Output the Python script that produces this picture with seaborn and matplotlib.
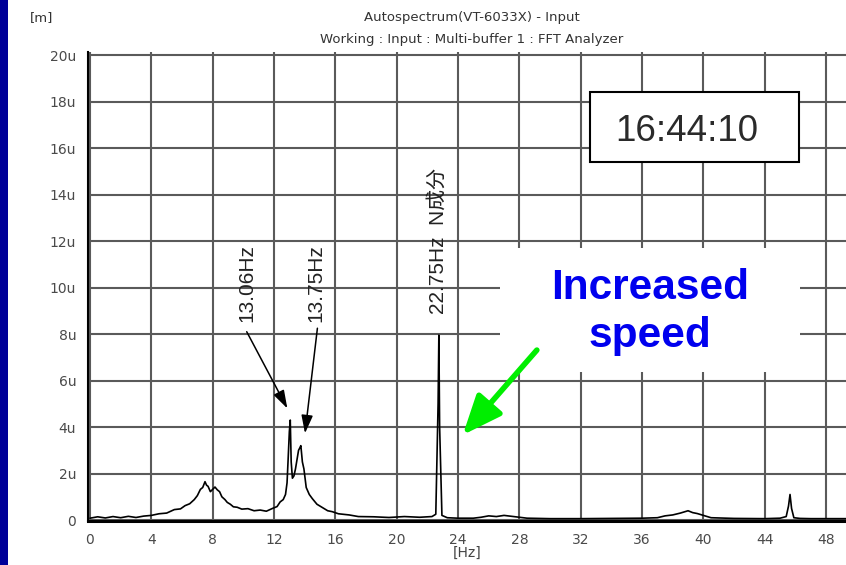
import matplotlib
matplotlib.use("Agg")
import matplotlib.pyplot as plt
from matplotlib.patches import Rectangle
import seaborn as sns
import pandas as pd

# ---------------- data ----------------
freq = [0.0, 0.5, 1.0, 1.5, 2.0, 2.5, 3.0, 3.5, 4.0, 4.5,
        5.0, 5.5, 5.9, 6.2, 6.5, 6.8, 7.0, 7.2, 7.35, 7.5,
        7.6, 7.7, 7.85, 8.0, 8.15, 8.3, 8.45, 8.6, 8.8, 8.95,
        9.15, 9.35, 9.6, 9.9, 10.3, 10.7, 11.1, 11.5, 11.9, 12.2,
        12.4, 12.6, 12.75, 12.85, 12.92, 13.0, 13.06, 13.12, 13.2, 13.3,
        13.4, 13.5, 13.6, 13.68, 13.75, 13.85, 13.95, 14.1, 14.3, 14.5,
        14.8, 15.1, 15.5, 15.8, 16.2, 16.9, 17.5, 18.5, 19.5, 20.5,
        21.5, 22.3, 22.55, 22.7, 22.75, 22.8, 22.95, 23.3, 24.0, 25.0,
        25.5, 26.0, 26.5, 27.0, 27.5, 28.0, 28.5, 30.0, 32.0, 34.0,
        36.0, 37.0, 37.5, 38.0, 38.5, 39.0, 39.3, 39.6, 40.0, 40.5,
        42.0, 44.0, 45.0, 45.4, 45.55, 45.65, 45.75, 45.9, 46.3, 47.0,
        48.0, 49.3]
amp = [0.08, 0.14, 0.09, 0.15, 0.10, 0.16, 0.11, 0.17, 0.20, 0.27,
       0.30, 0.45, 0.48, 0.62, 0.70, 0.88, 1.05, 1.32, 1.40, 1.65,
       1.50, 1.45, 1.22, 1.32, 1.42, 1.30, 1.22, 1.00, 0.88, 0.76,
       0.68, 0.57, 0.55, 0.47, 0.49, 0.40, 0.43, 0.38, 0.50, 0.58,
       0.78, 0.88, 1.10, 1.60, 2.60, 3.80, 4.30, 2.50, 1.80, 1.90,
       2.20, 2.60, 3.00, 3.10, 3.20, 2.50, 2.20, 1.40, 1.10, 0.92,
       0.68, 0.56, 0.40, 0.36, 0.27, 0.22, 0.15, 0.14, 0.11, 0.15,
       0.12, 0.15, 0.25, 5.00, 7.95, 4.00, 0.20, 0.10, 0.08, 0.08,
       0.12, 0.18, 0.15, 0.20, 0.16, 0.12, 0.08, 0.06, 0.06, 0.07,
       0.08, 0.10, 0.18, 0.22, 0.30, 0.40, 0.32, 0.28, 0.20, 0.10,
       0.07, 0.06, 0.08, 0.15, 0.60, 1.10, 0.50, 0.10, 0.07, 0.06,
       0.06, 0.06]

x_ticks = [0, 4, 8, 12, 16, 20, 24, 28, 32, 36, 40, 44, 48]
y_ticks = [0, 2, 4, 6, 8, 10, 12, 14, 16, 18, 20]
y_tick_labels = ["0", "2u", "4u", "6u", "8u", "10u", "12u", "14u", "16u", "18u", "20u"]

title1 = "Autospectrum(VT-6033X) - Input"
title2 = "Working : Input : Multi-buffer 1 : FFT Analyzer"
unit_label = "[m]"
x_label = "[Hz]"
timestamp = "16:44:10"
note = "Increased\nspeed"
peak_labels = ["13.06Hz", "13.75Hz", "22.75Hz  N成分"]

df = pd.DataFrame({"freq": freq, "amp": amp})

# ---------------- figure ----------------
sns.set_style("white")
plt.rcParams["font.family"] = ["DejaVu Sans", "Noto Sans CJK JP"]

fig = plt.figure(figsize=(8.46, 5.65), dpi=100)
fig.patch.set_facecolor("white")

# blue band at left edge
fig.add_artist(Rectangle((0, 0), 8 / 846, 1, transform=fig.transFigure,
                         facecolor="#000099", edgecolor="none"))

ax = fig.add_axes([88 / 846, 0.0775, 1 - 88 / 846, 0.8313])
ax.set_facecolor("white")

sns.lineplot(data=df, x="freq", y="amp", ax=ax, color="black", lw=1.2,
             zorder=4, estimator=None, sort=False)

ax.set_xlim(-0.13, 49.3)
ax.set_ylim(-0.05, 20.15)
ax.set_xticks(x_ticks)
ax.set_xticklabels([str(v) for v in x_ticks])
ax.set_yticks(y_ticks)
ax.set_yticklabels(y_tick_labels)
ax.tick_params(axis="both", direction="out", length=7, width=1.3, color="black",
               labelsize=10, labelcolor="#4a4a4a", pad=1.5)
ax.grid(True, color="#5a5a5a", lw=1.5)
ax.set_axisbelow(True)
for s in ["top", "right"]:
    ax.spines[s].set_visible(False)
ax.spines["left"].set_color("black")
ax.spines["left"].set_linewidth(1.5)
ax.spines["bottom"].set_color("black")
ax.spines["bottom"].set_linewidth(2.2)
ax.set_xlabel(x_label, fontsize=10, color="#444444", labelpad=-1)
ax.set_ylabel("")

# titles
fig.text(472 / 846, 1 - 18 / 565, title1, ha="center", va="center",
         fontsize=9.5, color="#333333")
fig.text(472 / 846, 1 - 40 / 565, title2, ha="center", va="center",
         fontsize=9.5, color="#333333")
fig.text(30 / 846, 1 - 18 / 565, unit_label, ha="left", va="center",
         fontsize=9.5, color="#333333")

# timestamp box
ax.add_patch(Rectangle((32.6, 15.4), 46.25 - 32.6, 18.4 - 15.4, facecolor="white",
                       edgecolor="black", lw=1.5, zorder=3))
ax.text(38.9, 16.7, timestamp, ha="center", va="center", fontsize=26.5,
        family="Liberation Sans", color="#2a2a2a", zorder=5)

# white box behind note
ax.add_patch(Rectangle((26.75, 6.37), 46.3 - 26.75, 11.7 - 6.37, facecolor="white",
                       edgecolor="none", zorder=3))
ax.text(36.5, 8.95, note, ha="center", va="center", fontsize=30.5,
        fontweight="bold", family="Liberation Sans", color="#0000ee",
        linespacing=1.25, zorder=5)

# peak labels (rotated)
peak_text_pos = [(10.24, 10.2), (14.7, 10.2), (22.7, 12.0)]
for lbl, (tx, ty) in zip(peak_labels, peak_text_pos):
    ax.text(tx, ty, lbl, rotation=90, ha="center", va="center", fontsize=15,
            family=["Liberation Sans", "Noto Sans CJK JP"], color="#222222",
            zorder=5)

# black arrows
arrows = [((10.22, 8.1), (12.87, 4.8)), ((14.83, 8.25), (14.02, 3.73))]
for start, tip in arrows:
    ax.annotate("", xy=tip, xytext=start,
                arrowprops=dict(arrowstyle="-|>,head_length=1.1,head_width=0.35",
                                mutation_scale=10, color="black", lw=1.1,
                                shrinkA=0, shrinkB=0), zorder=6)

# green arrow
ax.annotate("", xy=(24.31, 3.66), xytext=(29.14, 7.31),
            arrowprops=dict(arrowstyle="-|>,head_length=1.2,head_width=0.5",
                            mutation_scale=20, color="#00ee00", lw=4,
                            shrinkA=0, shrinkB=0), zorder=6)

fig.savefig("out.png", dpi=100, facecolor="white")
